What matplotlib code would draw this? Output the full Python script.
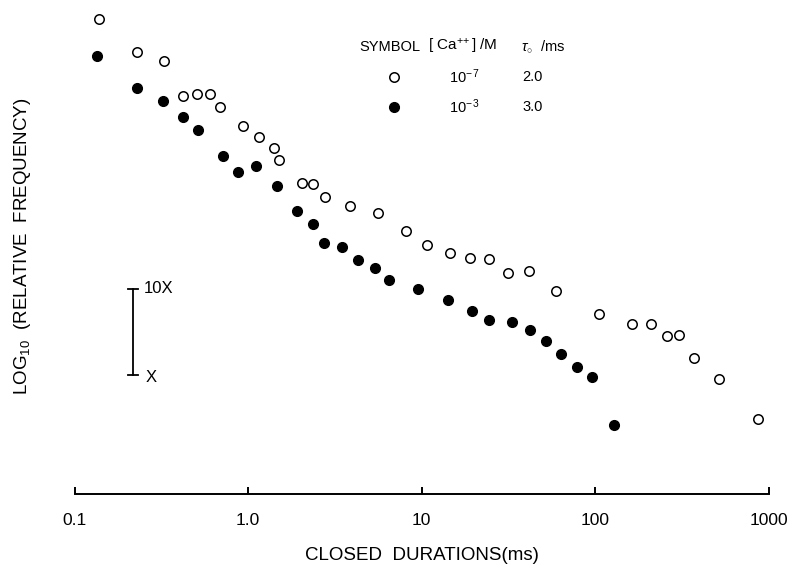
import matplotlib
matplotlib.use("Agg")
import matplotlib.pyplot as plt
from matplotlib.lines import Line2D

plt.rcParams['font.family'] = ['Liberation Sans', 'DejaVu Sans']
plt.rcParams['mathtext.fontset'] = 'custom'
plt.rcParams['mathtext.rm'] = 'Liberation Sans'
plt.rcParams['mathtext.it'] = 'Liberation Sans:italic'
plt.rcParams['mathtext.sf'] = 'Liberation Sans'

# Closed durations (ms) and log10 relative frequency
open_x = [0.138, 0.228, 0.327, 0.419, 0.507, 0.604, 0.693, 0.929, 1.152, 1.411,
          1.516, 2.045, 2.357, 2.773, 3.864, 5.576, 8.155, 10.67, 14.53, 18.94,
          24.27, 31.2, 41.2, 58.96, 104.6, 161.9, 208.4, 257.5, 304.7, 371.7,
          517.6, 864.3]
open_y = [4.122, 3.739, 3.639, 3.233, 3.253, 3.253, 3.109, 2.885, 2.761, 2.634,
          2.488, 2.225, 2.210, 2.066, 1.958, 1.874, 1.665, 1.503, 1.410, 1.359,
          1.344, 1.185, 1.209, 0.970, 0.710, 0.594, 0.594, 0.455, 0.467, 0.200,
          -0.046, -0.506]

filled_x = [0.134, 0.230, 0.324, 0.421, 0.512, 0.712, 0.873, 1.112, 1.457, 1.924,
            2.366, 2.737, 3.474, 4.278, 5.408, 6.477, 9.51, 14.22, 19.45, 24.49,
            33.04, 41.93, 51.64, 63.0, 78.2, 96.2, 128.3]
filled_y = [3.696, 3.329, 3.171, 2.990, 2.839, 2.538, 2.356, 2.422, 2.194, 1.900,
            1.750, 1.533, 1.480, 1.333, 1.236, 1.101, 0.997, 0.873, 0.742, 0.634,
            0.614, 0.525, 0.391, 0.243, 0.096, -0.023, -0.576]

xticks = [0.1, 1.0, 10, 100, 1000]
xticklabels = ["0.1", "1.0", "10", "100", "1000"]

W, H = 793, 567
fig = plt.figure(figsize=(W / 100, H / 100), dpi=100)
ax = fig.add_axes([74.5 / W, 1 - 494 / H, (769 - 74.5) / W, 494 / H])
ax.set_xscale('log')
ax.set_xlim(0.1, 1000)
ax.set_ylim(-1.379, 4.345)

ax.plot(open_x, open_y, linestyle='none', marker='o', markersize=6.8,
        markerfacecolor='white', markeredgecolor='black', markeredgewidth=1.1,
        clip_on=False)
ax.plot(filled_x, filled_y, linestyle='none', marker='o', markersize=7.0,
        markerfacecolor='black', markeredgecolor='black', clip_on=False)

for s in ['left', 'top', 'right']:
    ax.spines[s].set_visible(False)
ax.spines['bottom'].set_linewidth(1.4)
ax.set_yticks([])
ax.set_xticks(xticks)
ax.set_xticklabels(xticklabels)
ax.xaxis.set_minor_locator(matplotlib.ticker.NullLocator())
ax.tick_params(axis='x', direction='in', length=5, width=1.4, pad=14,
               labelsize=12.5)

# scale bar: one decade (X to 10X)
bx = (133 - 74.5) / (769 - 74.5)
trans = matplotlib.transforms.blended_transform_factory(ax.transAxes, ax.transData)
ax.plot([bx, bx], [0, 1], color='black', lw=1.3, transform=trans, clip_on=False)
cap = 5 / (769 - 74.5)
for yv in (0, 1):
    ax.plot([bx - cap, bx + cap], [yv, yv], color='black', lw=1.3,
            transform=trans, clip_on=False)
ax.text(bx + 0.016, 1, "10X", transform=trans, ha='left', va='center', fontsize=12)
ax.text(bx + 0.018, -0.03, "X", transform=trans, ha='left', va='center', fontsize=12)

# axis labels
fig.text(422 / W, 1 - 555 / H, "CLOSED  DURATIONS(ms)", ha='center', va='center',
         fontsize=13.5)
fig.text(23 / W, 1 - 246 / H, "LOG$_{10}$  (RELATIVE  FREQUENCY)", ha='center',
         va='center', rotation=90, fontsize=13.5)

# legend table
fs = 10.5
fig.text(359 / W, 1 - 46.7 / H, "SYMBOL", ha='left', va='center', fontsize=fs)
fig.text(428 / W, 1 - 46.7 / H, "[ Ca$^{+\\!+}$] /M", ha='left', va='center', fontsize=11)
fig.text(521 / W, 1 - 46.7 / H, "$\\tau_{\\circ}$  /ms", ha='left', va='center', fontsize=fs)
fig.add_artist(Line2D([394 / W], [1 - 76.7 / H], linestyle='none', marker='o',
                      markersize=6.8, markerfacecolor='white', markeredgecolor='black',
                      markeredgewidth=1.1, transform=fig.transFigure))
fig.add_artist(Line2D([394 / W], [1 - 106.7 / H], linestyle='none', marker='o',
                      markersize=7.0, markerfacecolor='black', markeredgecolor='black',
                      transform=fig.transFigure))
fig.text(449 / W, 1 - 76.7 / H, "10$^{-\\,7}$", ha='left', va='center', fontsize=fs)
fig.text(449 / W, 1 - 106.7 / H, "10$^{-\\,3}$", ha='left', va='center', fontsize=fs)
fig.text(522 / W, 1 - 76.7 / H, "2.0", ha='left', va='center', fontsize=fs)
fig.text(522 / W, 1 - 106.7 / H, "3.0", ha='left', va='center', fontsize=fs)

fig.savefig("out.png", dpi=100)
